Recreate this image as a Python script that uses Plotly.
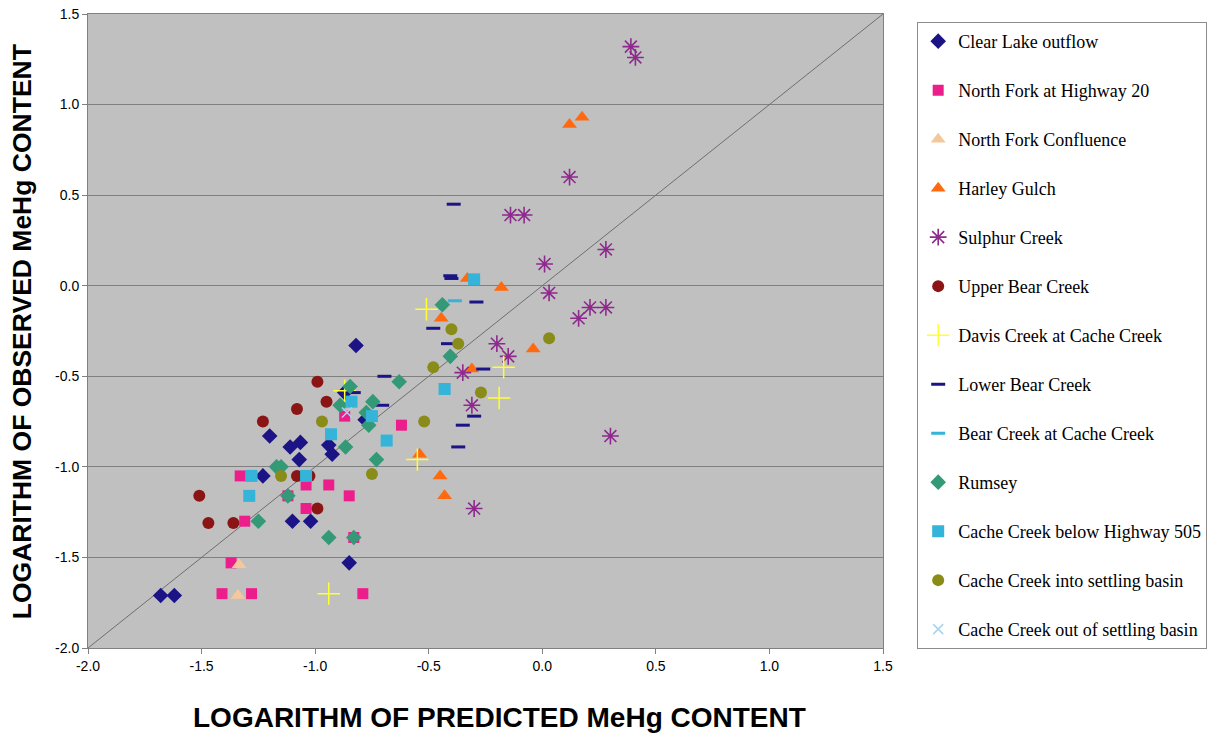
import plotly.graph_objects as go

# Predicted (x) vs observed (y) log MeHg content, one pair of lists per site
clear_lake_x = [-1.68, -1.62, -0.82, -1.20, -1.11, -1.065, -1.07, -1.23, -0.94, -0.925, -1.10, -1.02, -0.78, -0.87, -0.85]
clear_lake_y = [-1.71, -1.71, -0.33, -0.83, -0.89, -0.865, -0.96, -1.05, -0.88, -0.93, -1.30, -1.30, -0.74, -0.59, -1.53]

nf_hwy20_x = [-1.33, -1.04, -0.94, -1.12, -1.04, -1.31, -0.85, -0.83, -1.37, -1.41, -1.28, -0.79, -0.87, -0.62]
nf_hwy20_y = [-1.05, -1.10, -1.10, -1.16, -1.23, -1.30, -1.16, -1.39, -1.53, -1.70, -1.70, -1.70, -0.72, -0.77]

nf_confluence_x = [-1.335, -1.34]
nf_confluence_y = [-1.54, -1.71]

harley_x = [0.12, 0.175, -0.33, -0.18, -0.445, -0.31, -0.54, -0.04, -0.45, -0.43]
harley_y = [0.89, 0.93, 0.04, -0.01, -0.18, -0.46, -0.93, -0.35, -1.05, -1.16]

sulphur_x = [0.39, 0.41, 0.12, -0.14, -0.08, 0.01, 0.28, 0.03, 0.16, 0.21, 0.28, -0.20, -0.15, -0.35, -0.31, 0.30, -0.30]
sulphur_y = [1.32, 1.26, 0.60, 0.39, 0.39, 0.12, 0.20, -0.04, -0.18, -0.12, -0.12, -0.32, -0.39, -0.48, -0.66, -0.83, -1.23]

upper_bear_x = [-1.23, -1.51, -1.47, -1.36, -1.08, -1.025, -0.99, -0.99, -0.95, -1.08]
upper_bear_y = [-0.75, -1.16, -1.31, -1.31, -1.05, -1.05, -1.23, -0.53, -0.64, -0.68]

davis_x = [-0.51, -0.17, -0.19, -0.55, -0.94, -0.87]
davis_y = [-0.13, -0.45, -0.62, -0.96, -1.70, -0.58]

lower_bear_x = [-0.39, -0.405, -0.40, -0.29, -0.48, -0.415, -0.26, -0.30, -0.35, -0.37, -0.695, -0.705, -0.83]
lower_bear_y = [0.45, 0.055, 0.04, -0.09, -0.235, -0.32, -0.46, -0.72, -0.77, -0.89, -0.50, -0.66, -0.59]

bear_cache_x = [-0.385]
bear_cache_y = [-0.083]

rumsey_x = [-0.44, -0.405, -0.63, -0.846, -0.89, -0.746, -0.775, -0.764, -0.866, -0.73, -1.17, -1.15, -1.12, -1.25, -0.94, -0.83]
rumsey_y = [-0.105, -0.39, -0.53, -0.556, -0.66, -0.64, -0.70, -0.77, -0.89, -0.96, -1.0, -1.0, -1.16, -1.30, -1.39, -1.39]

cc_505_x = [-0.30, -0.43, -0.84, -0.75, -0.93, -0.685, -1.28, -1.04, -1.29]
cc_505_y = [0.035, -0.57, -0.64, -0.72, -0.82, -0.855, -1.05, -1.05, -1.16]

cc_into_x = [-0.40, -0.37, -0.48, -0.27, -0.52, 0.03, -0.75, -0.97, -1.15]
cc_into_y = [-0.24, -0.32, -0.45, -0.59, -0.75, -0.29, -1.04, -0.75, -1.05]

cc_out_x = [-0.86]
cc_out_y = [-0.70]

axis_min, axis_max = -2.0, 1.5
tick_vals = [-2.0, -1.5, -1.0, -0.5, 0.0, 0.5, 1.0, 1.5]
tick_text = ["-2.0", "-1.5", "-1.0", "-0.5", "0.0", "0.5", "1.0", "1.5"]
one_to_one = [axis_min, axis_max]

series = [
    ("Clear Lake outflow", clear_lake_x, clear_lake_y, dict(symbol="diamond", size=12, color="#1c1486")),
    ("North Fork at Highway 20", nf_hwy20_x, nf_hwy20_y, dict(symbol="square", size=11, color="#ec1e8c")),
    ("North Fork Confluence", nf_confluence_x, nf_confluence_y, dict(symbol="triangle-up", size=13, color="#f4c89a")),
    ("Harley Gulch", harley_x, harley_y, dict(symbol="triangle-up", size=13, color="#ff6a10")),
    ("Sulphur Creek", sulphur_x, sulphur_y, dict(symbol="asterisk-open", size=14, color="#8e2a8e",
                                                  line=dict(color="#8e2a8e", width=1.6))),
    ("Upper Bear Creek", upper_bear_x, upper_bear_y, dict(symbol="circle", size=12, color="#8b1414")),
    ("Davis Creek at Cache Creek", davis_x, davis_y, dict(symbol="cross-thin-open", size=16, color="#ffff33",
                                                          line=dict(color="#ffff33", width=1.5))),
    ("Lower Bear Creek", lower_bear_x, lower_bear_y, dict(symbol="line-ew-open", size=10, color="#1c1486",
                                                          line=dict(color="#1c1486", width=3))),
    ("Bear Creek at Cache Creek", bear_cache_x, bear_cache_y, dict(symbol="line-ew-open", size=10, color="#33b4d8",
                                                                   line=dict(color="#33b4d8", width=3))),
    ("Rumsey", rumsey_x, rumsey_y, dict(symbol="diamond", size=12, color="#339977")),
    ("Cache Creek below Highway 505", cc_505_x, cc_505_y, dict(symbol="square", size=12, color="#33b4d8")),
    ("Cache Creek into settling basin", cc_into_x, cc_into_y, dict(symbol="circle", size=12, color="#8a8c1a")),
    ("Cache Creek out of settling basin", cc_out_x, cc_out_y, dict(symbol="x-thin-open", size=10, color="#a8d4ee",
                                                                   line=dict(color="#a8d4ee", width=1.5))),
]

fig = go.Figure()

# 1:1 reference line
fig.add_trace(go.Scatter(x=one_to_one, y=one_to_one, mode="lines",
                         line=dict(color="#6e6e6e", width=1), showlegend=False, hoverinfo="skip"))

for i, (name, xs, ys, mk) in enumerate(series):
    fig.add_trace(go.Scatter(x=xs, y=ys, mode="markers", name=name, marker=mk,
                             legendgroup=f"g{i}"))

fig.update_layout(
    width=1214, height=734,
    margin=dict(l=88, r=331, t=14, b=86, autoexpand=False),
    paper_bgcolor="white",
    plot_bgcolor="#c0c0c0",
    font=dict(family="Liberation Sans, Arial", color="black"),
    showlegend=True,
    legend=dict(
        x=1.043, y=0.9875, xanchor="left", yanchor="top",
        bgcolor="white", bordercolor="#8c8c8c", borderwidth=1,
        font=dict(family="Liberation Serif, Times New Roman", size=18, color="black"),
        tracegroupgap=22.6,
        itemwidth=30,
        maxheight=720,
    ),
    annotations=[
        dict(text="<b>LOGARITHM OF PREDICTED MeHg CONTENT</b>", xref="paper", yref="paper",
             x=0.518, y=-0.110, xanchor="center", yanchor="middle", showarrow=False,
             font=dict(size=28, family="Liberation Sans, Arial")),
        dict(text="<b>LOGARITHM OF OBSERVED MeHg CONTENT</b>", xref="paper", yref="paper",
             x=-0.083, y=0.498, xanchor="center", yanchor="middle", showarrow=False, textangle=-90,
             font=dict(size=26.5, family="Liberation Sans, Arial")),
    ],
)

fig.update_xaxes(range=[axis_min, axis_max], tickvals=tick_vals, ticktext=tick_text, showgrid=False, zeroline=False,
                 showline=True, linecolor="#808080", linewidth=1, mirror=True,
                 ticks="outside", ticklen=5, tickcolor="#808080", tickfont=dict(size=14))
fig.update_yaxes(range=[axis_min, axis_max], tickvals=tick_vals, ticktext=tick_text, showgrid=True, gridcolor="#808080",
                 gridwidth=1, zeroline=False, showline=True, linecolor="#808080", linewidth=1, mirror=True,
                 ticks="outside", ticklen=5, tickcolor="#808080", tickfont=dict(size=14))

fig.write_html("out.html")
